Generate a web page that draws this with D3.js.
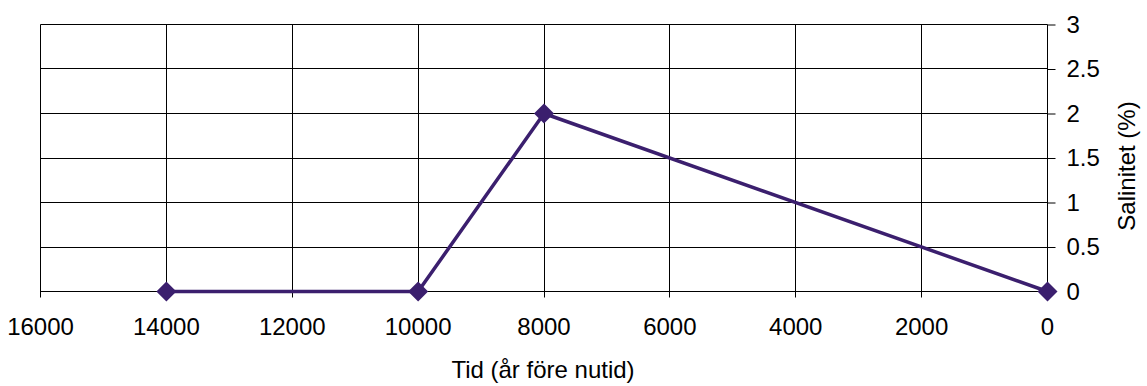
<!DOCTYPE html>
<html><head><meta charset="utf-8">
<script src="https://cdn.jsdelivr.net/npm/d3@7"></script>
<style>body{margin:0;background:#fff}svg{display:block}text{font-family:"Liberation Sans",Arial,Helvetica,sans-serif;fill:#000}</style>
</head><body><svg id="c" width="1147" height="386"></svg>
<script>
const years = [14000, 10000, 8000, 0];
const salinity = [0, 0, 2, 0];
const xTicks = [16000, 14000, 12000, 10000, 8000, 6000, 4000, 2000, 0];
const yTicks = [0, 0.5, 1, 1.5, 2, 2.5, 3];
const xTitle = "Tid (år före nutid)";
const yTitle = "Salinitet (%)";

const svg = d3.select("#c");
const L = 40.5, R = 1047.5, T = 24.5, B = 291.5;
const x = d3.scaleLinear().domain([16000, 0]).range([L, R]);
const y = d3.scaleLinear().domain([0, 3]).range([B, T]);
const FS = 24;

const g = svg.append("g");
g.selectAll("line.h").data(yTicks).join("line")
  .attr("x1", L).attr("x2", R).attr("y1", d => Math.round(y(d) - 0.5) + 0.5).attr("y2", d => Math.round(y(d) - 0.5) + 0.5)
  .attr("stroke", "#000").attr("stroke-width", 1);
g.selectAll("line.v").data(xTicks).join("line")
  .attr("x1", d => Math.round(x(d) - 0.5) + 0.5).attr("x2", d => Math.round(x(d) - 0.5) + 0.5)
  .attr("y1", T).attr("y2", B + 6)
  .attr("stroke", "#000").attr("stroke-width", 1);

const yAxis = d3.axisRight(y).tickValues(yTicks).tickSize(8).tickPadding(11).tickFormat(d => String(d));
const ya = svg.append("g").attr("transform", `translate(${R},0)`).call(yAxis);
ya.select(".domain").remove();
ya.selectAll("text").attr("font-size", FS).attr("font-family", "Liberation Sans, Arial, sans-serif").attr("fill", "#000");
ya.selectAll("line").attr("stroke", "#000");

svg.selectAll("text.xt").data(xTicks).join("text").attr("class", "xt")
  .attr("x", d => x(d)).attr("y", 335).attr("text-anchor", "middle").attr("font-size", FS)
  .text(d => String(d));

svg.append("text").attr("x", 543).attr("y", 378).attr("text-anchor", "middle").attr("font-size", FS).text(xTitle);
svg.append("text").attr("transform", "translate(1135,166) rotate(-90)").attr("text-anchor", "middle").attr("font-size", FS).text(yTitle);

const data = years.map((v, i) => ({x: v, y: salinity[i]}));
const color = "#3b1f6e";
svg.append("path").datum(data)
  .attr("d", d3.line().x(d => x(d.x)).y(d => y(d.y)))
  .attr("fill", "none").attr("stroke", color).attr("stroke-width", 3.5).attr("stroke-linejoin", "round");
svg.selectAll("path.m").data(data).join("path").attr("class", "m")
  .attr("transform", d => `translate(${x(d.x)},${y(d.y)})`)
  .attr("d", "M0,-10L10,0L0,10L-10,0Z").attr("fill", color);
</script></body></html>
